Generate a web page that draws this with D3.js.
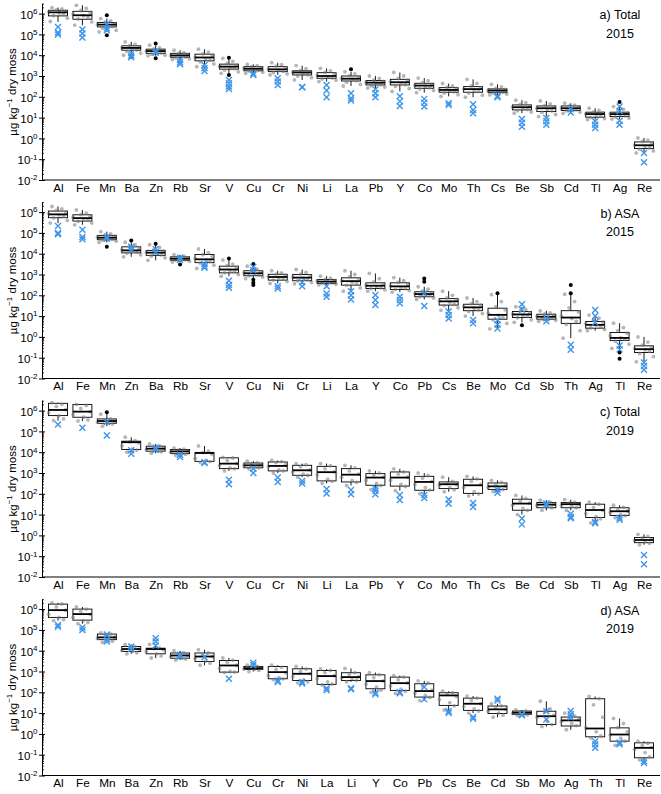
<!DOCTYPE html>
<html><head><meta charset="utf-8">
<script src="https://cdn.jsdelivr.net/npm/d3@7"></script>
<style>body{margin:0;background:#fff} svg{display:block} text{font-family:"Liberation Sans",Arial,sans-serif;fill:#000}</style>
</head><body><svg id="c" width="661" height="794"></svg>
<script>
// ---------- DATA (log10 of µg/kg) ----------
const catsA = ["Al","Fe","Mn","Ba","Zn","Rb","Sr","V","Cu","Cr","Ni","Li","La","Pb","Y","Co","Mo","Th","Cs","Be","Sb","Cd","Tl","Ag","Re"];
const catsB = ["Al","Fe","Mn","Zn","Ba","Rb","Sr","V","Cu","Ni","Cr","Li","La","Y","Co","Pb","Cs","Be","Mo","Cd","Sb","Th","Ag","Tl","Re"];
const catsC = ["Al","Fe","Mn","Ba","Zn","Rb","Sr","V","Cu","Cr","Ni","Li","La","Pb","Y","Co","Mo","Th","Cs","Be","Cd","Sb","Tl","Ag","Re"];
const catsD = ["Al","Fe","Mn","Ba","Zn","Rb","Sr","V","Cu","Cr","Ni","La","Li","Y","Co","Pb","Cs","Be","Cd","Sb","Mo","Ag","Th","Tl","Re"];

// box stats: [whiskerLow, q1, median, q3, whiskerHigh]
const boxA = [[5.6,5.89,6.06,6.16,6.29],[5.44,5.73,5.92,6.11,6.4],[5.12,5.36,5.47,5.57,5.76],[4.0,4.24,4.35,4.45,4.64],[3.97,4.09,4.2,4.29,4.48],[3.79,3.9,3.99,4.09,4.24],[3.45,3.73,3.89,4.05,4.29],[3.13,3.33,3.45,3.57,3.85],[3.13,3.25,3.35,3.45,3.56],[3.05,3.21,3.32,3.45,3.64],[2.81,3.05,3.17,3.25,3.5],[2.73,2.89,3.0,3.16,3.37],[2.52,2.76,2.87,3.0,3.2],[2.42,2.57,2.68,2.78,3.0],[2.26,2.57,2.7,2.84,3.17],[2.2,2.41,2.54,2.65,2.9],[2.02,2.22,2.33,2.44,2.64],[1.98,2.22,2.37,2.49,2.84],[2.09,2.2,2.3,2.38,2.6],[1.21,1.37,1.5,1.61,1.84],[1.05,1.29,1.45,1.56,1.8],[1.2,1.34,1.45,1.56,1.69],[0.9,1.02,1.17,1.26,1.45],[0.93,1.05,1.17,1.26,1.53],[-0.7,-0.49,-0.33,-0.17,0.02]];
const boxB = [[5.47,5.73,5.89,6.05,6.27],[5.39,5.57,5.71,5.87,6.1],[4.54,4.67,4.77,4.88,5.06],[3.85,4.04,4.16,4.33,4.55],[3.68,3.92,4.05,4.16,4.43],[3.6,3.68,3.76,3.85,3.95],[3.29,3.57,3.73,3.96,4.23],[2.92,3.08,3.24,3.4,3.7],[2.8,2.94,3.06,3.18,3.4],[2.57,2.73,2.88,3.01,3.18],[2.55,2.7,2.85,3.0,3.24],[2.5,2.57,2.66,2.76,2.92],[2.2,2.49,2.68,2.84,3.18],[2.2,2.33,2.46,2.6,3.05],[2.15,2.28,2.43,2.6,2.85],[1.8,1.93,2.06,2.17,2.41],[1.28,1.53,1.71,1.84,2.2],[1.0,1.26,1.42,1.57,1.87],[0.39,0.85,1.06,1.38,2.03],[0.7,0.93,1.08,1.22,1.45],[0.75,0.85,0.97,1.09,1.25],[-0.06,0.65,0.93,1.26,2.05],[0.3,0.42,0.58,0.74,1.05],[-0.55,-0.17,-0.05,0.21,0.66],[-1.2,-0.75,-0.59,-0.43,0.0]];
const boxC = [[5.52,5.76,6.03,6.35,6.38],[5.5,5.68,5.95,6.29,6.3],[5.25,5.39,5.5,5.6,5.83],[4.0,4.13,4.48,4.53,4.72],[3.95,4.05,4.17,4.29,4.4],[3.85,3.93,4.04,4.13,4.2],[3.5,3.56,3.96,3.99,4.3],[3.1,3.21,3.45,3.73,3.75],[3.2,3.25,3.37,3.48,3.57],[3.0,3.1,3.34,3.53,3.6],[2.8,2.89,3.13,3.37,3.45],[2.5,2.62,3.04,3.32,3.45],[2.4,2.57,2.92,3.21,3.37],[2.2,2.41,2.78,2.97,3.1],[2.15,2.37,2.78,3.05,3.2],[2.0,2.17,2.57,2.84,3.0],[2.1,2.25,2.46,2.57,2.8],[1.9,2.02,2.41,2.7,2.84],[2.1,2.21,2.36,2.52,2.65],[1.0,1.21,1.53,1.74,1.92],[1.2,1.33,1.48,1.58,1.69],[1.2,1.33,1.5,1.58,1.72],[0.6,0.86,1.22,1.5,1.6],[0.85,0.96,1.16,1.33,1.45],[-0.45,-0.35,-0.22,-0.1,0.05]];
const boxD = [[5.45,5.6,5.95,6.24,6.3],[5.3,5.47,5.76,6.0,6.1],[4.4,4.53,4.64,4.8,4.85],[3.85,3.96,4.08,4.2,4.3],[3.65,3.85,4.08,4.12,4.3],[3.55,3.64,3.77,3.89,4.0],[3.3,3.48,3.72,3.89,4.05],[2.95,2.97,3.29,3.53,3.65],[3.0,3.1,3.16,3.24,3.3],[2.6,2.65,2.97,3.24,3.3],[2.45,2.57,2.89,3.13,3.25],[2.35,2.38,2.78,3.05,3.12],[2.5,2.57,2.73,2.94,3.15],[2.0,2.17,2.54,2.84,2.95],[1.95,2.09,2.44,2.73,2.8],[1.6,1.77,2.06,2.41,2.55],[1.15,1.37,1.85,1.98,2.05],[1.0,1.13,1.45,1.72,1.82],[0.8,0.98,1.18,1.34,1.45],[0.88,0.94,1.02,1.1,1.15],[0.35,0.45,0.85,1.09,1.57],[0.2,0.38,0.65,0.81,1.0],[-0.2,-0.14,0.26,1.69,1.8],[-0.55,-0.35,-0.03,0.29,0.74],[-1.25,-1.15,-0.67,-0.43,-0.35]];

// outliers [category, log10 value]
const outA = [["Mn",5.92],["Mn",4.96],["Ba",3.92],["Zn",4.56],["Zn",3.85],["V",3.88],["V",3.05],["La",3.33],["Ag",1.75]];
const outB = [["Mn",4.33],["Zn",4.64],["Ba",4.48],["Rb",3.48],["V",3.77],["Cu",3.5],["Cu",2.75],["Cu",2.6],["Cu",2.5],["Pb",2.81],["Pb",2.65],["Mo",2.1],["Cd",0.56],["Th",2.49],["Th",2.1],["Tl",-0.75],["Tl",-1.05]];
const outC = [["Mn",5.92]];
const outD = [];

// reference values (blue crosses)
const refA = [[5.36,5.09,5.0],[5.23,5.04,4.85],[5.5,5.3,5.2],[4.1,3.98,3.9],[4.18,4.12],[3.77,3.66,3.56],[3.53,3.37,3.24],[2.81,2.65,2.49,2.38],[3.12,3.05],[2.89,2.73,2.57],[2.47,2.46],[2.57,2.3,1.98],[2.17,1.93,1.82],[2.36,2.17,1.98],[2.03,1.78,1.56],[1.9,1.72,1.53],[1.69,1.6],[1.64,1.37,1.21],[2.04,1.98],[0.93,0.75,0.56],[0.98,0.82,0.66],[1.4,1.25],[0.82,0.66,0.5],[1.53,1.32,0.85,0.66],[-0.7,-1.15]];
const refB = [[5.33,5.0,4.93],[5.15,4.8,4.7],[4.8,4.72],[4.33,4.2],[4.22,4.08],[3.8,3.7],[3.5,3.4,3.32],[2.7,2.5,2.36],[3.36,3.2],[2.44,2.33],[2.63,2.44],[2.44,2.09,1.93],[2.2,2.0,1.8],[2.01,1.77,1.53],[1.93,1.78,1.62],[2.1,1.48],[1.22,1.05,0.89],[0.81,0.65],[0.8,0.6,0.4],[1.57,1.3],[0.9,0.75],[-0.38,-0.62],[1.29,1.0,0.7],[-0.41,-0.6],[-1.23,-1.4,-1.58]];
const refC = [[5.33],[5.17],[5.45,4.8],[4.09,3.93],[4.22,4.12],[3.88,3.77],[3.52,3.48],[2.68,2.46],[3.2,3.0],[2.78,2.57],[2.62,2.5],[2.23,2.01],[2.18,1.98],[2.25,2.15,1.98],[1.94,1.7],[1.94,1.8],[1.73,1.52],[1.56,1.37],[2.2,2.05],[0.81,0.53],[1.53,1.45],[1.04,0.9,0.82],[0.65,0.58],[0.85,0.75],[-0.94,-1.39]];
const refD = [[5.23,5.15],[5.12,5.0],[4.78,4.55,4.44],[4.2,4.08],[4.6,4.44,4.25],[3.8,3.72],[3.68],[2.65],[3.42,3.3],[2.57,2.5],[2.5,2.42],[2.2,2.1],[2.2,2.15],[1.98,1.9],[2.0,1.95],[2.25,1.66],[1.09,1.0],[0.81,0.73],[1.69,1.6],[0.95,0.9],[1.09,0.69],[1.1,0.95,0.8],[-0.35,-0.5,-0.67],[-0.41,-0.5],[-1.31,-1.4]];

// individual samples (grey points)
const ptsA = [[6.29,6.22,6.18,6.12,6.08,6.03,5.97,5.9,5.78,5.62],[6.4,6.25,6.15,6.05,5.98,5.9,5.82,5.74,5.6,5.45],[5.76,5.65,5.58,5.52,5.47,5.42,5.37,5.3,5.2,5.12],[4.64,4.52,4.46,4.4,4.35,4.3,4.25,4.18,4.1,4.0],[4.48,4.35,4.3,4.24,4.2,4.15,4.1,4.05,4.0,3.97],[4.24,4.12,4.08,4.03,3.99,3.95,3.91,3.87,3.82,3.79],[4.29,4.15,4.06,3.98,3.9,3.84,3.76,3.68,3.58,3.45],[3.85,3.7,3.6,3.52,3.46,3.4,3.35,3.28,3.2,3.13],[3.56,3.5,3.45,3.4,3.36,3.32,3.28,3.24,3.18,3.13],[3.64,3.55,3.47,3.4,3.33,3.28,3.22,3.16,3.1,3.05],[3.5,3.35,3.27,3.22,3.18,3.12,3.06,3.0,2.92,2.81],[3.37,3.25,3.17,3.1,3.02,2.96,2.9,2.85,2.8,2.73],[3.2,3.1,3.02,2.95,2.88,2.83,2.77,2.7,2.6,2.52],[3.0,2.88,2.8,2.74,2.69,2.64,2.58,2.53,2.47,2.42],[3.17,3.0,2.88,2.8,2.72,2.66,2.58,2.5,2.4,2.26],[2.9,2.78,2.68,2.6,2.55,2.5,2.44,2.38,2.3,2.2],[2.64,2.52,2.46,2.4,2.34,2.3,2.24,2.18,2.1,2.02],[2.84,2.65,2.52,2.44,2.38,2.32,2.25,2.18,2.08,1.98],[2.6,2.48,2.4,2.35,2.3,2.26,2.22,2.18,2.13,2.09],[1.84,1.72,1.64,1.56,1.5,1.45,1.39,1.33,1.27,1.21],[1.8,1.66,1.58,1.5,1.45,1.4,1.32,1.25,1.15,1.05],[1.69,1.6,1.56,1.5,1.46,1.42,1.37,1.32,1.26,1.2],[1.45,1.35,1.28,1.22,1.17,1.12,1.06,1.0,0.95,0.9],[1.53,1.4,1.3,1.23,1.18,1.13,1.08,1.03,0.98,0.93],[0.02,-0.08,-0.15,-0.24,-0.32,-0.38,-0.45,-0.52,-0.6,-0.7]];
const ptsB = [[6.27,6.15,6.08,6.0,5.93,5.87,5.8,5.72,5.6,5.47],[6.1,5.95,5.88,5.8,5.74,5.68,5.62,5.55,5.47,5.39],[5.06,4.95,4.9,4.84,4.79,4.75,4.7,4.65,4.6,4.54],[4.55,4.42,4.35,4.25,4.18,4.12,4.07,4.02,3.95,3.85],[4.43,4.3,4.2,4.12,4.06,4.0,3.94,3.88,3.8,3.68],[3.95,3.88,3.84,3.8,3.77,3.74,3.71,3.68,3.64,3.6],[4.23,4.05,3.95,3.86,3.78,3.7,3.62,3.55,3.45,3.29],[3.7,3.5,3.42,3.34,3.26,3.2,3.14,3.08,3.0,2.92],[3.4,3.25,3.18,3.12,3.07,3.02,2.98,2.94,2.88,2.8],[3.18,3.08,3.02,2.96,2.9,2.84,2.78,2.73,2.66,2.57],[3.24,3.1,3.02,2.95,2.88,2.82,2.76,2.7,2.62,2.55],[2.92,2.82,2.77,2.72,2.68,2.64,2.6,2.57,2.53,2.5],[3.18,3.0,2.88,2.8,2.7,2.63,2.55,2.48,2.35,2.2],[3.05,2.8,2.65,2.55,2.48,2.42,2.36,2.32,2.26,2.2],[2.85,2.7,2.62,2.52,2.45,2.38,2.32,2.28,2.22,2.15],[2.41,2.3,2.2,2.13,2.08,2.03,1.98,1.93,1.87,1.8],[2.2,2.0,1.88,1.8,1.73,1.66,1.58,1.5,1.4,1.28],[1.87,1.7,1.6,1.52,1.45,1.38,1.3,1.22,1.12,1.0],[2.03,1.7,1.45,1.3,1.15,1.03,0.92,0.82,0.65,0.39],[1.45,1.32,1.25,1.17,1.1,1.04,0.98,0.92,0.82,0.7],[1.25,1.15,1.1,1.04,0.99,0.95,0.9,0.85,0.8,0.75],[2.05,1.7,1.4,1.2,1.0,0.88,0.75,0.6,0.3,-0.06],[1.05,0.9,0.8,0.72,0.64,0.57,0.5,0.43,0.36,0.3],[0.66,0.45,0.3,0.18,0.05,-0.05,-0.12,-0.2,-0.35,-0.55],[0.0,-0.25,-0.4,-0.5,-0.56,-0.62,-0.7,-0.8,-0.95,-1.2]];
const ptsC = [[6.38,6.3,6.2,6.05,5.9,5.75,5.6,5.52],[6.3,6.25,6.1,5.95,5.8,5.68,5.55,5.5],[5.83,5.6,5.55,5.5,5.45,5.4,5.35,5.25],[4.72,4.55,4.5,4.45,4.3,4.15,4.1,4.0],[4.4,4.3,4.25,4.18,4.12,4.08,4.02,3.95],[4.2,4.15,4.1,4.05,4.0,3.95,3.9,3.85],[4.3,4.05,3.98,3.9,3.7,3.6,3.55,3.5],[3.75,3.72,3.6,3.45,3.35,3.25,3.2,3.1],[3.57,3.5,3.45,3.4,3.35,3.3,3.25,3.2],[3.6,3.55,3.5,3.4,3.3,3.15,3.1,3.0],[3.45,3.4,3.3,3.15,3.05,2.95,2.88,2.8],[3.45,3.35,3.2,3.05,2.9,2.7,2.6,2.5],[3.37,3.25,3.1,2.95,2.8,2.65,2.55,2.4],[3.1,3.0,2.9,2.8,2.65,2.5,2.4,2.2],[3.2,3.05,2.95,2.8,2.65,2.45,2.35,2.15],[3.0,2.88,2.75,2.6,2.45,2.3,2.18,2.0],[2.8,2.6,2.5,2.45,2.4,2.3,2.2,2.1],[2.84,2.72,2.6,2.45,2.3,2.1,2.0,1.9],[2.65,2.55,2.45,2.38,2.32,2.25,2.2,2.1],[1.92,1.78,1.65,1.55,1.45,1.3,1.2,1.0],[1.69,1.6,1.55,1.5,1.45,1.4,1.33,1.2],[1.72,1.6,1.55,1.5,1.45,1.4,1.33,1.2],[1.6,1.5,1.35,1.2,1.05,0.9,0.8,0.6],[1.45,1.35,1.25,1.18,1.1,1.0,0.95,0.85],[0.05,-0.05,-0.12,-0.2,-0.25,-0.3,-0.38,-0.45]];
const ptsD = [[6.3,6.25,6.1,5.95,5.75,5.6,5.5,5.45],[6.1,6.0,5.9,5.75,5.6,5.45,5.35,5.3],[4.85,4.8,4.72,4.65,4.6,4.55,4.45,4.4],[4.3,4.2,4.15,4.08,4.02,3.96,3.9,3.85],[4.3,4.12,4.1,4.05,3.95,3.85,3.75,3.65],[4.0,3.9,3.85,3.78,3.72,3.65,3.6,3.55],[4.05,3.9,3.8,3.72,3.62,3.5,3.4,3.3],[3.65,3.55,3.45,3.3,3.15,3.0,2.97,2.95],[3.3,3.25,3.2,3.16,3.12,3.1,3.05,3.0],[3.3,3.2,3.1,2.95,2.8,2.7,2.65,2.6],[3.25,3.12,3.0,2.9,2.75,2.6,2.5,2.45],[3.12,3.05,2.95,2.8,2.65,2.5,2.4,2.35],[3.15,2.95,2.85,2.75,2.7,2.65,2.58,2.5],[2.95,2.85,2.7,2.55,2.4,2.25,2.1,2.0],[2.8,2.73,2.6,2.45,2.3,2.15,2.05,1.95],[2.55,2.45,2.3,2.1,1.95,1.85,1.75,1.6],[2.05,1.98,1.9,1.8,1.65,1.5,1.35,1.15],[1.82,1.72,1.6,1.45,1.3,1.2,1.1,1.0],[1.45,1.35,1.25,1.18,1.1,1.0,0.9,0.8],[1.15,1.1,1.06,1.02,0.98,0.95,0.92,0.88],[1.57,1.2,1.05,0.9,0.8,0.6,0.45,0.35],[1.0,0.85,0.75,0.68,0.6,0.5,0.4,0.2],[1.8,1.7,1.4,0.8,0.3,0.1,-0.1,-0.2],[0.74,0.5,0.3,0.1,-0.05,-0.2,-0.35,-0.55],[-0.35,-0.45,-0.55,-0.65,-0.75,-0.9,-1.1,-1.25]];

const titles1 = ["a) Total","b) ASA","c) Total","d) ASA"];
const titles2 = ["2015","2015","2019","2019"];
const yMajor = [-2,-1,0,1,2,3,4,5,6];

// ---------- DRAW ----------
const panels = [
  {cats:catsA, box:boxA, out:outA, ref:refA, pts:ptsA},
  {cats:catsB, box:boxB, out:outB, ref:refB, pts:ptsB},
  {cats:catsC, box:boxC, out:outC, ref:refC, pts:ptsC},
  {cats:catsD, box:boxD, out:outD, ref:refD, pts:ptsD}
];
const svg = d3.select("#c");
const P = v => Math.pow(10, v);
const jit = [-0.55,0.35,-0.15,0.7,-0.85,0.1,0.5,-0.4,0.85,-0.7];
const blue = "#3d95ea";
const axX = 42, xR = 660, dec = 20.8;
const boxW = 19;

panels.forEach((p, i) => {
  const y0 = i * 198.5;
  const yb = y0 + 180;
  const y = d3.scaleLog().domain([1e-2, P(6.5)]).range([yb, yb - 8.5 * dec]);
  const x = d3.scalePoint().domain(p.cats).range([58, 644]);
  const g = svg.append("g");

  // y axis major
  const ya = g.append("g").attr("transform", `translate(${axX},0)`)
    .call(d3.axisLeft(y).tickValues(yMajor.map(P)).tickSize(3.5).tickSizeOuter(0).tickPadding(3).tickFormat(""));
  ya.select(".domain").attr("stroke", "#000").attr("stroke-width", 1);
  ya.selectAll(".tick line").attr("stroke","#000").attr("x2",-3).attr("x1",3);
  ya.selectAll(".tick text").attr("font-size", 11.5).attr("dy", "0.4em").attr("x", -4.5)
    .each(function(d){
      const t = d3.select(this);
      t.append("tspan").text("10");
      t.append("tspan").attr("font-size", 8).attr("dy", "-0.6em").text(String(Math.round(Math.log10(d))));
    });
  // minor ticks
  const minors = [];
  for (let k=-2;k<=6;k++) for (let m=2;m<=9;m++){ const v=m*P(k); if (v<=P(6.5)) minors.push(v); }
  const ym = g.append("g").attr("transform", `translate(${axX},0)`)
    .call(d3.axisLeft(y).tickValues(minors).tickSize(-2).tickFormat(""));
  ym.select(".domain").remove();
  ym.selectAll(".tick line").attr("stroke","#000").attr("stroke-width",0.8);

  // x axis
  const xa = g.append("g").attr("transform", `translate(0,${yb})`)
    .call(d3.axisBottom(x).tickSize(0).tickPadding(3.5));
  xa.select(".domain").remove();
  xa.selectAll(".tick text").attr("font-size", 11.8);
  g.append("line").attr("x1", axX).attr("x2", xR).attr("y1", yb).attr("y2", yb).attr("stroke", "#000");

  // y label
  const yl = g.append("text").attr("text-anchor","middle").attr("font-size",11.5)
    .attr("transform", `translate(16.5,${y0+92}) rotate(-90)`);
  yl.append("tspan").text("µg kg");
  yl.append("tspan").attr("font-size",8).attr("dy","-0.6em").text("−1");
  yl.append("tspan").attr("dy","0.4em").text(" dry moss");

  // titles
  g.append("text").attr("x",620).attr("y",y0+19).attr("text-anchor","middle").attr("font-size",12.5).text(titles1[i]);
  g.append("text").attr("x",620).attr("y",y0+37.5).attr("text-anchor","middle").attr("font-size",12.5).text(titles2[i]);

  // boxes
  p.cats.forEach((c, j) => {
    const cx = x(c), b = p.box[j];
    const bg = g.append("g");
    bg.append("line").attr("x1",cx).attr("x2",cx).attr("y1",y(P(b[0]))).attr("y2",y(P(b[1]))).attr("stroke","#000").attr("stroke-width",0.9);
    bg.append("line").attr("x1",cx).attr("x2",cx).attr("y1",y(P(b[3]))).attr("y2",y(P(b[4]))).attr("stroke","#000").attr("stroke-width",0.9);
    bg.append("rect").attr("x",cx-boxW/2).attr("width",boxW).attr("y",y(P(b[3]))).attr("height",y(P(b[1]))-y(P(b[3])))
      .attr("fill","#fff").attr("stroke","#000").attr("stroke-width",0.9);
    const pts = p.pts[j];
    bg.selectAll("circle.pt").data(pts).join("circle").attr("class","pt")
      .attr("cx",(d,k)=>cx + jit[k % jit.length]*11).attr("cy",d=>y(P(d))).attr("r",1.9)
      .attr("fill","#7a7a7a").attr("fill-opacity",0.55);
    bg.append("line").attr("x1",cx-boxW/2).attr("x2",cx+boxW/2).attr("y1",y(P(b[2]))).attr("y2",y(P(b[2]))).attr("stroke","#000").attr("stroke-width",1.8);
  });
  // outliers
  g.selectAll("circle.out").data(p.out).join("circle").attr("class","out")
    .attr("cx",d=>x(d[0])).attr("cy",d=>y(P(d[1]))).attr("r",2).attr("fill","#000");
  // reference crosses
  p.cats.forEach((c, j) => {
    g.selectAll(null).data(p.ref[j]).join("path")
      .attr("transform", d=>`translate(${x(c)},${y(P(d))})`)
      .attr("d","M-3,-3L3,3M-3,3L3,-3").attr("stroke",blue).attr("stroke-width",1.4).attr("fill","none");
  });
});
</script></body></html>
